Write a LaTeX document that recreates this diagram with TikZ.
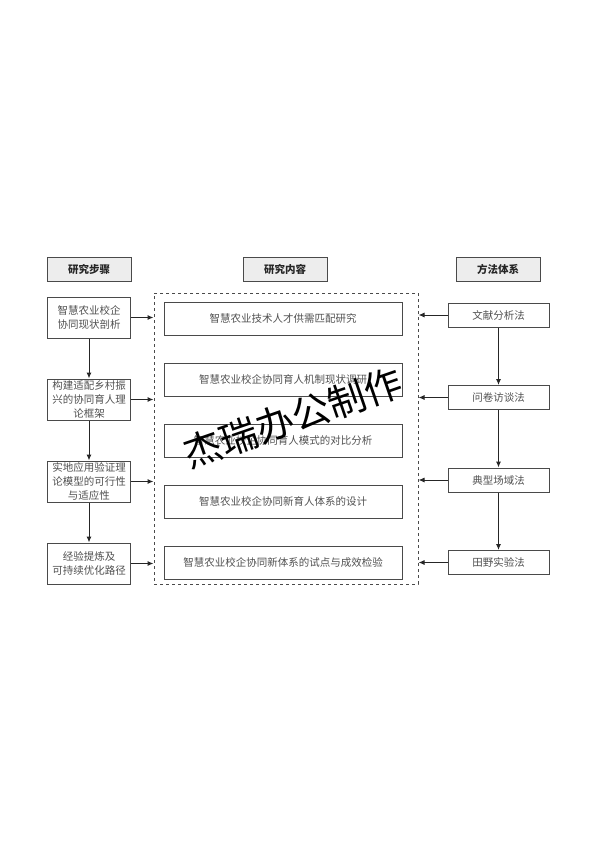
\documentclass[tikz,border=0pt]{standalone}
\usepackage{fontspec}
\usepackage{xcolor}
\usepackage{tikz}
\usetikzlibrary{arrows.meta,positioning}
\newfontfamily\cjk{Noto Sans CJK SC}
\definecolor{boxline}{HTML}{4A4A4A}
\definecolor{boxtext}{HTML}{505050}
\definecolor{headfill}{HTML}{EDEDED}

\begin{document}
\begin{tikzpicture}[
  x=1pt, y=1pt,
  box/.style={rectangle, draw=boxline, line width=1pt, align=center, inner sep=1pt,
    text=boxtext, font=\cjk\fontsize{10.5}{14}\selectfont},
  head/.style={box, fill=headfill, text=black!85, minimum width=84pt, minimum height=24pt,
    font=\cjk\bfseries\fontsize{10.5}{14}\selectfont},
  stepbox/.style={box, minimum width=83pt, minimum height=41pt},
  topic/.style={box, minimum width=238pt, minimum height=33pt},
  method/.style={box, minimum width=101pt, minimum height=24pt},
  frame/.style={rectangle, draw=boxline, line width=1pt, dashed, minimum width=264pt,
    minimum height=291pt},
  wmark/.style={text=black, rotate=19, font=\cjk\fontsize{38}{40}\selectfont},
  arr/.style={-{Latex[length=6pt,width=5pt]}, line width=1pt, draw=black!85}
]
\useasboundingbox (0,0) rectangle (594,-841);

% headers
\node[head] (hsteps) at (89,-269) {研究步骤};
\node[head] (hcontent) at (285,-269) {研究内容};
\node[head] (hmethods) at (498,-269) {方法体系};

% research steps
\node[stepbox, below=15pt of hsteps] (s1) {智慧农业校企\\协同现状剖析};
\node[stepbox, below=40pt of s1] (s2) {构建适配乡村振\\兴的协同育人理\\论框架};
\node[stepbox, below=40pt of s2] (s3) {实地应用验证理\\论模型的可行性\\与适应性};
\node[stepbox, below=40pt of s3] (s4) {经验提炼及\\可持续优化路径};

% research content
\node[frame] (frame) at (286,-438.5) {};
\node[topic] (c1) at (283,-318.5) {智慧农业技术人才供需匹配研究};
\node[topic, below=27pt of c1] (c2) {智慧农业校企协同育人机制现状调研};
\node[topic, below=27pt of c2] (c3) {智慧农业校企协同育人模式的对比分析};
\node[topic, below=27pt of c3] (c4) {智慧农业校企协同新育人体系的设计};
\node[topic, below=27pt of c4] (c5) {智慧农业校企协同新体系的试点与成效检验};

% methods
\node[method] (m1) at (498.5,-315) {文献分析法};
\node[method, below=57.5pt of m1] (m2) {问卷访谈法};
\node[method, below=57.5pt of m2] (m3) {典型场域法};
\node[method, below=57.5pt of m3] (m4) {田野实验法};

\draw[arr] (s1) -- (s2);
\draw[arr] (s2) -- (s3);
\draw[arr] (s3) -- (s4);
\draw[arr] (m1) -- (m2);
\draw[arr] (m2) -- (m3);
\draw[arr] (m3) -- (m4);
\foreach \i in {1,...,4} {
  \draw[arr] (s\i.east) -- (s\i.east -| frame.west);
  \draw[arr] (m\i.west) -- (m\i.west -| frame.east);
}

\node[wmark] (mark1) at (293,-418) {杰瑞办公制作};
\end{tikzpicture}
\end{document}
